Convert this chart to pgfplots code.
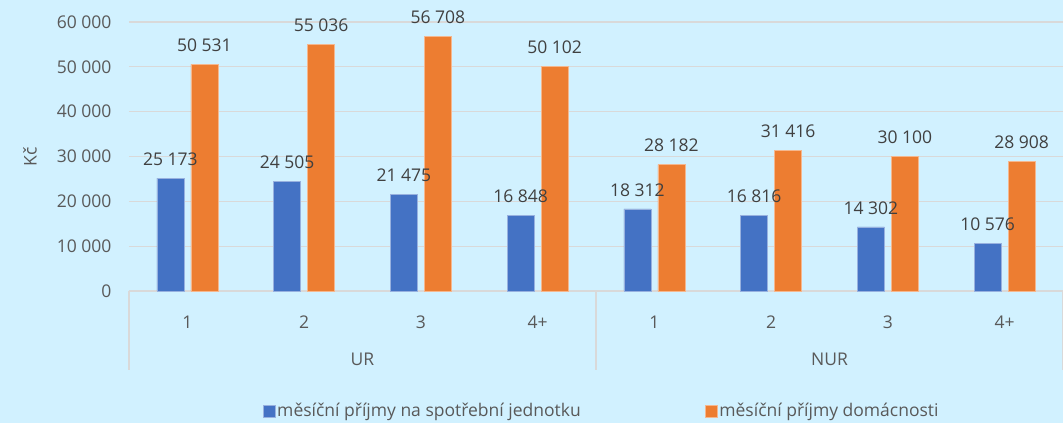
\documentclass[border=0pt]{standalone}
\usepackage{pgfplots}
\pgfplotsset{compat=1.18}
\usepackage{fontspec}
\setmainfont{Open Sans}
\definecolor{bg}{HTML}{D1F1FF}
\definecolor{cblue}{HTML}{4472C4}
\definecolor{corange}{HTML}{ED7D31}
\definecolor{gridc}{HTML}{D9D9D9}
\definecolor{tickc}{HTML}{595959}
\definecolor{labc}{HTML}{404040}
\begin{document}
\begin{tikzpicture}[font=\fontsize{17.5}{20}\selectfont]
\fill[bg] (-129pt,-132pt) rectangle (934pt,291pt);
\path[use as bounding box] (-129pt,-132pt) rectangle (934pt,291pt);
\begin{axis}[
  at={(0pt,0pt)}, anchor=south west,
  width=934pt, height=269pt, scale only axis,
  xmin=-0.5, xmax=7.5, ymin=0, ymax=60000,
  ybar=7pt, bar width=27pt,
  xtick={0,...,7}, xticklabels={1,2,3,4+,1,2,3,4+},
  ytick={0,10000,...,60000},
  ymajorgrids, grid style={gridc, line width=1.2pt},
  axis x line*=bottom, axis y line*=left,
  x axis line style={gridc, line width=1.3pt, -},
  y axis line style={draw=none},
  tick style={draw=none},
  yticklabel style={tickc, xshift=-14pt},
  xticklabel style={tickc, yshift=-17pt},
  scaled y ticks=false,
  /pgf/number format/1000 sep={\ },
  /pgf/number format/assume math mode=true,
  clip=false,
  nodes near coords,
  every node near coord/.append style={labc, yshift=9pt},
  legend columns=2,
  legend image code/.code={\fill[#1] (0pt,-6pt) rectangle (12pt,6pt);},
  legend style={at={(rel axis cs:0.506,0)}, anchor=center, yshift=-120pt,
    draw=none, fill=none, text=tickc,
    /tikz/every even column/.append style={column sep=122pt},
    nodes={inner sep=2pt}},
]
\addplot[fill=cblue, draw=cblue!55!white, line width=0.6pt] coordinates {(0,25173)(1,24505)(2,21475)(3,16848)(4,18312)(5,16816)(6,14302)(7,10576)};
\addplot[fill=corange, draw=corange!55!white, line width=0.6pt] coordinates {(0,50531)(1,55036)(2,56708)(3,50102)(4,28182)(5,31416)(6,30100)(7,28908)};
\legend{měsíční příjmy na spotřební jednotku, měsíční příjmy domácnosti}
\draw[gridc, line width=1.3pt] (axis cs:-0.5,0) -- ++(0pt,-79pt);
\draw[gridc, line width=1.3pt] (axis cs:3.5,0) -- ++(0pt,-79pt);
\draw[gridc, line width=1.3pt] (axis cs:7.5,0) -- ++(0pt,-79pt);
\node[tickc] at ([yshift=-68pt]axis cs:1.5,0) {UR};
\node[tickc] at ([yshift=-68pt]axis cs:5.5,0) {NUR};
\node[tickc, rotate=90] at ([xshift=-99pt]axis description cs:0,0.5) {Kč};
\end{axis}
\end{tikzpicture}
\end{document}
